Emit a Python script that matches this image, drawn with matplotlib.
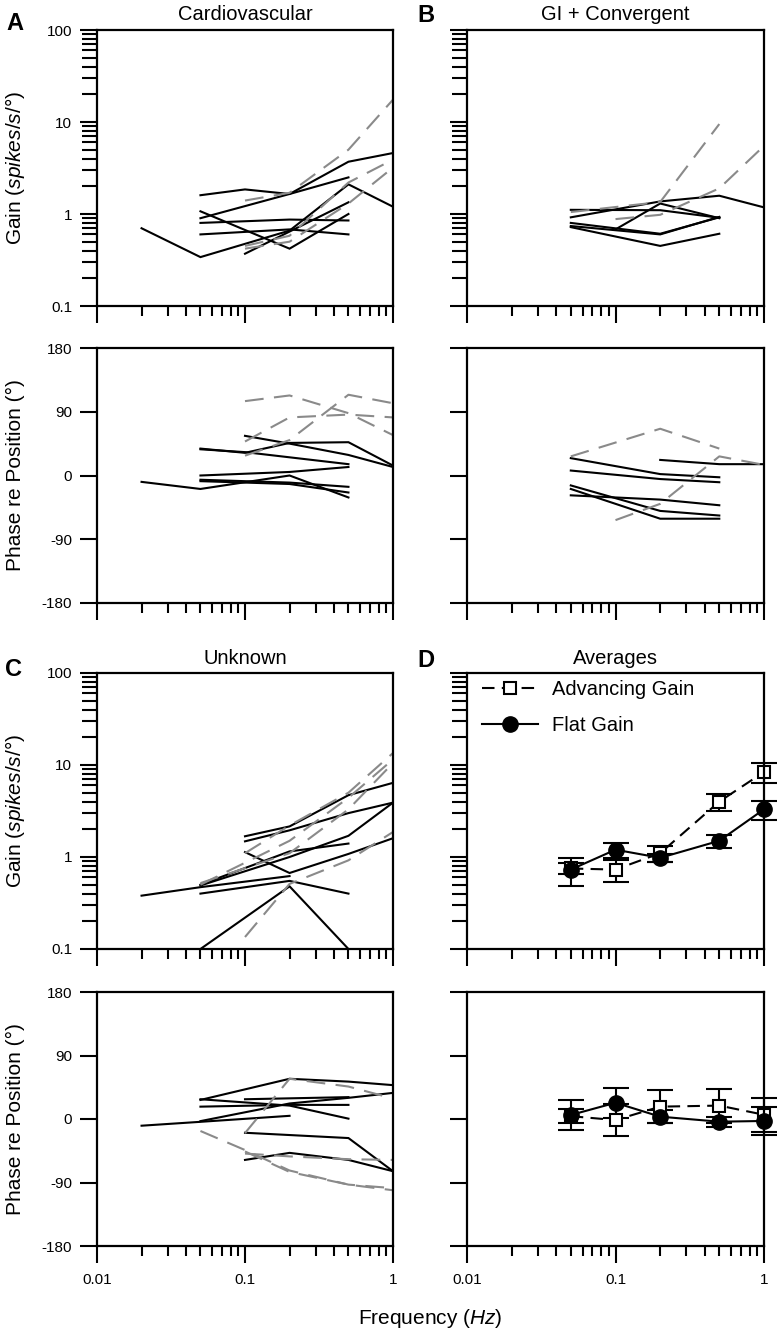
import matplotlib
matplotlib.use('Agg')
import matplotlib.pyplot as plt
from matplotlib.ticker import LogLocator, NullFormatter, FixedLocator, FixedFormatter
from matplotlib.lines import Line2D

plt.rcParams['font.family'] = ['Liberation Sans', 'DejaVu Sans']
plt.rcParams['mathtext.fontset'] = 'custom'
plt.rcParams['mathtext.rm'] = 'Liberation Sans'
plt.rcParams['mathtext.it'] = 'Liberation Sans:italic'

# ---------------- DATA ----------------
# Panel A: Cardiovascular - gain (flat gain neurons: solid black; advancing: dashed gray)
a_gain_solid_f = [[0.02, 0.05, 0.2, 0.5, 1], [0.05, 0.1, 0.2, 0.5, 1], [0.05, 0.2, 0.5],
                  [0.05, 0.2, 0.5], [0.05, 0.2, 0.5], [0.05, 0.2, 0.5], [0.1, 0.5]]
a_gain_solid_v = [[0.70, 0.34, 0.66, 2.1, 1.2], [1.6, 1.85, 1.65, 3.7, 4.6], [0.9, 1.65, 2.5],
                  [0.8, 0.87, 0.85], [0.6, 0.68, 0.6], [1.07, 0.42, 1.0], [0.37, 1.34]]
a_gain_dash_f = [[0.1, 0.2, 0.5, 1], [0.1, 0.2, 0.5, 1], [0.1, 0.2, 0.5, 1]]
a_gain_dash_v = [[1.4, 1.7, 5.0, 17.5], [0.45, 0.58, 2.2, 3.9], [0.42, 0.5, 1.3, 3.2]]
# Panel A phase
a_phase_solid_f = [[0.02, 0.05, 0.2, 0.5], [0.05, 0.1, 0.5], [0.1, 0.2, 0.5, 1],
                   [0.05, 0.1, 0.2, 0.5, 1], [0.05, 0.2, 0.5], [0.05, 0.2, 0.5], [0.05, 0.2, 0.5]]
a_phase_solid_v = [[-9, -19, 0, -31], [37, 33, 16], [56, 45, 29, 12],
                   [38, 32, 46, 47, 14], [0, 5, 12], [-6, -10, -16], [-8, -12, -24]]
a_phase_dash_f = [[0.1, 0.2, 0.5, 1], [0.1, 0.2, 0.5, 1], [0.1, 0.2, 0.5, 1]]
a_phase_dash_v = [[105, 113, 88, 57], [48, 82, 86, 82], [28, 50, 114, 102]]

# Panel B: GI + Convergent
b_gain_solid_f = [[0.05, 0.2, 0.5], [0.05, 0.2, 0.5, 1], [0.05, 0.2, 0.5], [0.05, 0.2, 0.5],
                  [0.1, 0.2, 0.5], [0.05, 0.2, 0.5]]
b_gain_solid_v = [[1.11, 1.1, 0.91], [0.92, 1.37, 1.58, 1.18], [0.8, 0.61, 0.92], [0.72, 0.45, 0.61],
                  [0.68, 1.3, 0.9], [0.74, 0.6, 0.93]]
b_gain_dash_f = [[0.1, 0.2, 0.5, 1], [0.05, 0.2, 0.5]]
b_gain_dash_v = [[0.88, 0.98, 1.9, 5.5], [1.05, 1.35, 9.5]]
b_phase_solid_f = [[0.05, 0.2, 0.5], [0.05, 0.2, 0.5], [0.05, 0.2, 0.5], [0.05, 0.2, 0.5],
                   [0.05, 0.2, 0.5], [0.2, 0.5, 1]]
b_phase_solid_v = [[24.5, 2, -2.5], [7, -5, -9.5], [-14, -50, -56.5], [-19, -61, -61],
                   [-28, -34, -42], [22, 16, 16]]
b_phase_dash_f = [[0.05, 0.2, 0.5], [0.1, 0.2, 0.5, 1]]
b_phase_dash_v = [[27, 66, 38], [-63, -40, 27, 15]]

# Panel C: Unknown
c_gain_solid_f = [[0.02, 0.05, 0.2], [0.05, 0.2, 0.5], [0.05, 0.2, 0.5, 1], [0.05, 0.2, 0.5],
                  [0.1, 0.2, 0.5, 1], [0.1, 0.2, 0.5, 1], [0.1, 0.2, 0.5, 1], [0.05, 0.2, 0.5]]
c_gain_solid_v = [[0.38, 0.47, 0.62], [0.40, 0.55, 0.40], [0.49, 1.0, 1.7, 3.9], [0.5, 1.15, 1.4],
                  [1.13, 0.67, 1.08, 1.6], [1.68, 2.15, 4.7, 6.4], [1.48, 1.95, 3.0, 3.9], [0.1, 0.48, 0.1]]
c_gain_dash_f = [[0.05, 0.2, 0.5, 1], [0.1, 0.2, 0.5, 1], [0.1, 0.2, 0.5, 1], [0.05, 0.2, 0.5, 1]]
c_gain_dash_v = [[0.52, 1.1, 3.3, 10.5], [1.1, 2.2, 5.0, 13.5], [0.135, 0.51, 0.92, 1.87],
                 [0.5, 1.5, 4.4, 11.5]]
c_phase_solid_f = [[0.02, 0.05, 0.2], [0.05, 0.2, 0.5, 1], [0.05, 0.2, 0.5], [0.05, 0.2, 0.5],
                   [0.05, 0.2, 0.5, 1], [0.1, 0.5], [0.1, 0.5, 1], [0.1, 0.2, 0.5, 1]]
c_phase_solid_v = [[-9.5, -4, 4.5], [27, 57, 53, 48], [28, 19, 0.5], [17.5, 20, 20],
                   [-3, 22, 30, 37], [28, 31], [-19.5, -27, -74], [-58, -48, -58, -74]]
c_phase_dash_f = [[0.1, 0.2, 0.5, 1], [0.05, 0.1, 0.2, 0.5, 1], [0.1, 0.2, 0.5, 1], [0.1, 0.2, 0.5, 1]]
c_phase_dash_v = [[-20, 57, 46, 29], [-17, -44, -73, -93, -98], [-49, -53, -57, -58],
                  [-46, -75, -93, -101]]

# Panel D: Averages
avg_freq = [0.05, 0.1, 0.2, 0.5, 1]
adv_gain = [0.75, 0.73, 1.1, 4.0, 8.4]
adv_gain_sem = [0.1, 0.2, 0.22, 0.85, 2.0]
flat_gain = [0.73, 1.2, 0.98, 1.5, 3.3]
flat_gain_sem = [0.25, 0.23, 0.1, 0.25, 0.75]
adv_phase = [4, -1.5, 17.5, 19, 6]
adv_phase_sem = [10, 23, 23, 24, 24]
flat_phase = [5.7, 23, 3.3, -3.8, -2.8]
flat_phase_sem = [21, 21.5, 9, 7, 20]

titles = ['Cardiovascular', 'GI + Convergent', 'Unknown', 'Averages']
letters = ['A', 'B', 'C', 'D']
phase_ticks = [-180, -90, 0, 90, 180]

# ---------------- FIGURE ----------------
W, H = 780, 1333
fig = plt.figure(figsize=(W / 100, H / 100), dpi=100)


def rect(x0, y0, x1, y1):
    return [x0 / W, 1 - y1 / H, (x1 - x0) / W, (y1 - y0) / H]


cols = [(97, 393), (467, 764)]
rows = [(30, 306), (348, 603), (673, 949), (992, 1246)]

GRAY = '#8a8a8a'
LW = 1.5


def style(ax, gain, show_x, show_y):
    ax.set_xscale('log')
    ax.set_xlim(0.01, 1)
    ax.xaxis.set_major_locator(FixedLocator([0.01, 0.1, 1]))
    ax.xaxis.set_major_formatter(FixedFormatter(['0.01', '0.1', '1']))
    ax.xaxis.set_minor_locator(LogLocator(base=10, subs=range(2, 10), numticks=20))
    ax.xaxis.set_minor_formatter(NullFormatter())
    if gain:
        ax.set_yscale('log')
        ax.set_ylim(0.1, 100)
        ax.yaxis.set_major_locator(FixedLocator([0.1, 1, 10, 100]))
        ax.yaxis.set_major_formatter(FixedFormatter(['0.1', '1', '10', '100']))
        ax.yaxis.set_minor_locator(LogLocator(base=10, subs=range(2, 10), numticks=20))
        ax.yaxis.set_minor_formatter(NullFormatter())
    else:
        ax.set_ylim(-180, 180)
        ax.yaxis.set_major_locator(FixedLocator(phase_ticks))
        ax.yaxis.set_major_formatter(FixedFormatter([str(t) for t in phase_ticks]))
    ax.tick_params(axis='x', which='major', length=12.5, width=1.5, direction='out',
                   labelsize=11, pad=7, labelbottom=show_x, top=False)
    ax.tick_params(axis='x', which='minor', length=7, width=1.5, direction='out', top=False)
    ax.tick_params(axis='y', which='major', length=12, width=1.5, direction='out',
                   labelsize=11, pad=6, labelleft=show_y, right=False)
    ax.tick_params(axis='y', which='minor', length=11, width=1.5, direction='out', right=False)
    for s in ax.spines.values():
        s.set_linewidth(1.6)


def draw(ax, sf, sv, df, dv):
    for f, v in zip(sf, sv):
        ax.plot(f, v, color='k', lw=LW, solid_joinstyle='miter')
    for f, v in zip(df, dv):
        ax.plot(f, v, color=GRAY, lw=LW, dashes=(9, 5))


panels = [
    (a_gain_solid_f, a_gain_solid_v, a_gain_dash_f, a_gain_dash_v,
     a_phase_solid_f, a_phase_solid_v, a_phase_dash_f, a_phase_dash_v),
    (b_gain_solid_f, b_gain_solid_v, b_gain_dash_f, b_gain_dash_v,
     b_phase_solid_f, b_phase_solid_v, b_phase_dash_f, b_phase_dash_v),
    (c_gain_solid_f, c_gain_solid_v, c_gain_dash_f, c_gain_dash_v,
     c_phase_solid_f, c_phase_solid_v, c_phase_dash_f, c_phase_dash_v),
]

axes = []
for i in range(4):
    ci = i % 2
    ri = (i // 2) * 2
    x0, x1 = cols[ci]
    g0, g1 = rows[ri]
    p0, p1 = rows[ri + 1]
    axg = fig.add_axes(rect(x0, g0, x1, g1))
    axp = fig.add_axes(rect(x0, p0, x1, p1))
    style(axg, True, False, ci == 0)
    style(axp, False, ri == 2, ci == 0)
    if i < 3:
        sf, sv, df, dv, psf, psv, pdf, pdv = panels[i]
        draw(axg, sf, sv, df, dv)
        draw(axp, psf, psv, pdf, pdv)
    axes.append((axg, axp))

# Panel D averages
axg, axp = axes[3]
common = dict(color='k', lw=LW, elinewidth=1.5, capthick=1.5, capsize=9.5, clip_on=False)
axg.errorbar(avg_freq, adv_gain, yerr=adv_gain_sem, fmt='s', ms=8, mfc='white', mec='k',
             mew=1.5, **common)
axg.plot(avg_freq, adv_gain, color='k', lw=LW, dashes=(6, 3.5), zorder=1)
axg.errorbar(avg_freq, flat_gain, yerr=flat_gain_sem, fmt='o-', ms=11, mfc='k', mec='k', **common)
axp.errorbar(avg_freq, adv_phase, yerr=adv_phase_sem, fmt='s', ms=8, mfc='white', mec='k',
             mew=1.5, **common)
axp.plot(avg_freq, adv_phase, color='k', lw=LW, dashes=(6, 3.5), zorder=1)
axp.errorbar(avg_freq, flat_phase, yerr=flat_phase_sem, fmt='o-', ms=11, mfc='k', mec='k', **common)

h_adv = Line2D([], [], color='k', lw=LW, dashes=(6, 3.5), marker='s', ms=8, mfc='white', mec='k', mew=1.5)
h_flat = Line2D([], [], color='k', lw=LW, marker='o', ms=11, mfc='k', mec='k')
axg.legend([h_adv, h_flat], ['Advancing Gain', 'Flat Gain'], loc='upper left',
           bbox_to_anchor=(0.05, 0.975), borderaxespad=0, borderpad=0, frameon=False,
           fontsize=14.5, handlelength=2.8, handletextpad=0.7, labelspacing=0.85, numpoints=1)

# Titles and panel letters
title_pos = [((97 + 393) / 2, 14), ((467 + 764) / 2, 14), ((97 + 393) / 2, 659), ((467 + 764) / 2, 659)]
letter_pos = [(15, 24), (426, 16), (14, 670), (426, 661)]
for t, (x, y) in zip(titles, title_pos):
    fig.text(x / W, 1 - y / H, t, ha='center', va='center', fontsize=14.5)
for t, (x, y) in zip(letters, letter_pos):
    fig.text(x / W, 1 - y / H, t, ha='center', va='center', fontsize=17, fontweight='bold')

# Y labels
gain_label = r'Gain $\mathit{(spikes/s/°)}$'
phase_label = 'Phase re Position (°)'
for (r0, r1), lab in zip(rows, [gain_label, phase_label, gain_label, phase_label]):
    fig.text(15 / W, 1 - ((r0 + r1) / 2) / H, lab, rotation=90, ha='center', va='center', fontsize=15)

fig.text(430 / W, 1 - 1318 / H, r'Frequency $\mathit{(Hz)}$', ha='center', va='center', fontsize=15)

fig.savefig('out.png', dpi=100)
